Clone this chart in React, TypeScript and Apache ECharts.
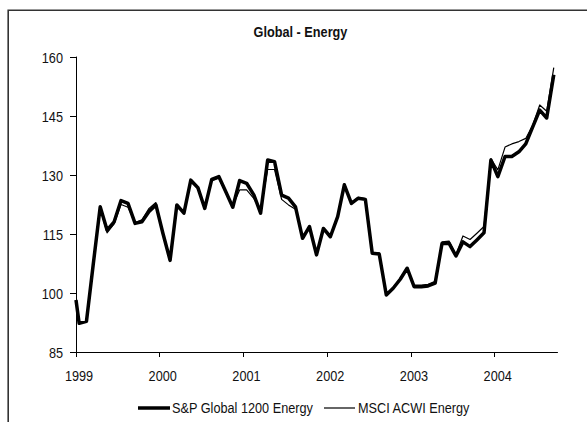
import React, { useEffect, useRef } from "react";
import * as echarts from "echarts";

// Observation dates: a base value on 1 Jan 1999, then mid-month readings Jan 1999 .. Sep 2004
const BASE_DATE = "1999-01-01";
const FIRST_MONTH = "1999-01";
const LAST_MONTH = "2004-09";

const spGlobal1200Energy = [
  98.2,
  92.3, 92.8, 107.0, 121.9, 116.0, 118.1, 123.5, 122.8, 117.7, 118.1, 120.7, 122.4,
  115.2, 108.3, 122.4, 120.3, 128.7, 126.8, 121.5, 128.9, 129.6, 125.8, 121.8, 128.6,
  127.9, 124.9, 120.3, 133.8, 133.4, 124.9, 124.1, 121.9, 113.9, 116.9, 109.7, 116.4,
  114.3, 119.4, 127.5, 122.8, 124.1, 123.8, 110.1, 109.9, 99.5, 101.2, 103.5, 106.3,
  101.6, 101.6, 101.8, 102.5, 112.6, 112.6, 109.4, 113.0, 111.8, 113.5, 115.3, 133.8,
  129.6, 134.7, 134.7, 135.9, 137.9, 142.3, 146.5, 144.5, 155.5,
];

const msciAcwiEnergy = [
  98.2,
  92.3, 92.8, 107.0, 121.5, 115.3, 117.6, 122.5, 121.8, 117.9, 118.6, 121.5, 123.0,
  115.5, 108.5, 122.0, 120.5, 128.2, 126.5, 121.8, 128.5, 129.2, 125.5, 122.2, 126.2,
  126.2, 124.0, 121.0, 131.4, 131.4, 123.8, 122.4, 121.3, 114.3, 116.6, 110.0, 116.0,
  114.6, 119.8, 127.2, 123.0, 124.3, 124.0, 110.3, 110.2, 99.8, 101.4, 103.8, 106.5,
  102.0, 102.0, 102.2, 103.0, 113.0, 113.2, 109.8, 114.5, 113.6, 115.2, 116.9, 134.2,
  131.3, 137.1, 137.9, 138.5, 139.3, 142.7, 147.8, 146.2, 157.3,
];

const yearLabels = ["1999", "2000", "2001", "2002", "2003", "2004"];
const yTickValues = [85, 100, 115, 130, 145, 160];

const SERIES_NAMES = ["S&P Global 1200 Energy", "MSCI ACWI Energy"];
const SERIES_WIDTHS = [3.5, 1.2];
const TITLE = "Global - Energy";

// Arial-metric face, squeezed horizontally to a narrow cut
const FONT = "'Liberation Sans', Arial, sans-serif";
const FONT_SIZE = 15.5;
const NARROW = 0.82;
const INK = "#111";

function buildDates(): string[] {
  const out = [BASE_DATE];
  let [y, m] = FIRST_MONTH.split("-").map(Number);
  const [ly, lm] = LAST_MONTH.split("-").map(Number);
  while (y < ly || (y === ly && m <= lm)) {
    out.push(`${y}-${String(m).padStart(2, "0")}-15`);
    m += 1;
    if (m > 12) {
      m = 1;
      y += 1;
    }
  }
  return out;
}

// fractional months since the start of 1999
function monthPos(date: string): number {
  const [y, m, d] = date.split("-").map(Number);
  const days = new Date(y, m, 0).getDate();
  return (y - 1999) * 12 + (m - 1) + (d - 1) / days;
}

function narrowText(
  text: string,
  x: number,
  y: number,
  align: string,
  bold = false
) {
  return {
    type: "text",
    silent: true,
    x,
    y,
    scaleX: NARROW,
    style: {
      text,
      fontFamily: FONT,
      fontSize: FONT_SIZE,
      fontWeight: bold ? "bold" : "normal",
      fill: INK,
      align,
      verticalAlign: "middle",
    },
  };
}

export default function App() {
  const ref = useRef<HTMLDivElement>(null);

  useEffect(() => {
    document.body.style.margin = "0";
    if (!ref.current) return;
    const chart = echarts.init(ref.current, null, { renderer: "svg" });

    const xs = buildDates().map(monthPos);
    const spData = spGlobal1200Energy.map((v, i) => [xs[i], v]);
    const msciData = msciAcwiEnergy.map((v, i) => [xs[i], v]);
    const yearTicks = yearLabels.map((_, i) => i * 12);

    chart.setOption({
      animation: false,
      grid: { left: 76, right: 29.5, top: 57, bottom: 70, containLabel: false },
      xAxis: {
        type: "value",
        min: 0,
        max: 69,
        axisLine: { show: true, lineStyle: { color: "#000", width: 1 } },
        axisTick: {
          show: true,
          customValues: yearTicks,
          length: 5,
          lineStyle: { color: "#000", width: 1 },
        },
        axisLabel: { show: false },
        splitLine: { show: false },
      },
      yAxis: {
        type: "value",
        min: 85,
        max: 160,
        axisLine: { show: true, lineStyle: { color: "#000", width: 1 } },
        axisTick: {
          show: true,
          customValues: yTickValues,
          length: 6,
          lineStyle: { color: "#000", width: 1 },
        },
        axisLabel: { show: false },
        splitLine: { show: false },
      },
      series: [
        {
          name: SERIES_NAMES[0],
          type: "line",
          data: spData,
          symbol: "none",
          z: 2,
          lineStyle: { color: "#000", width: SERIES_WIDTHS[0], join: "round" },
        },
        {
          name: SERIES_NAMES[1],
          type: "line",
          data: msciData,
          symbol: "none",
          z: 3,
          lineStyle: { color: "#000", width: SERIES_WIDTHS[1], join: "round" },
        },
      ],
    });

    // Axis labels placed through the chart's own scales
    const toPx = (x: number, y: number) =>
      chart.convertToPixel({ gridIndex: 0 }, [x, y]) as number[];

    const yLabelEls = yTickValues.map((v) => {
      const [px, py] = toPx(0, v);
      return narrowText(String(v), px - 13, py + 0.5, "right");
    });
    const xLabelEls = yearLabels.map((label, i) => {
      const [px, py] = toPx(yearTicks[i], 85);
      return narrowText(label, px + 3, py + 23.5, "center");
    });

    // Legend row
    const legendY = 408;
    const legendItems = [
      { x0: 138, x1: 170, tx: 172 },
      { x0: 324, x1: 355, tx: 358 },
    ];
    const legendEls = legendItems.flatMap((it, i) => [
      {
        type: "line",
        silent: true,
        shape: { x1: it.x0, y1: legendY, x2: it.x1, y2: legendY },
        style: { stroke: "#000", lineWidth: SERIES_WIDTHS[i] },
      },
      narrowText(SERIES_NAMES[i], it.tx, legendY, "left"),
    ]);

    chart.setOption({
      graphic: [
        {
          type: "rect",
          silent: true,
          shape: { x: 8.2, y: 10.2, width: 700, height: 500 },
          style: { fill: "none", stroke: "#333", lineWidth: 1.6 },
        },
        narrowText(TITLE, 300.5, 32, "center", true),
        ...yLabelEls,
        ...xLabelEls,
        ...legendEls,
      ],
    });

    return () => chart.dispose();
  }, []);

  return <div ref={ref} style={{ width: 587, height: 422 }} />;
}
